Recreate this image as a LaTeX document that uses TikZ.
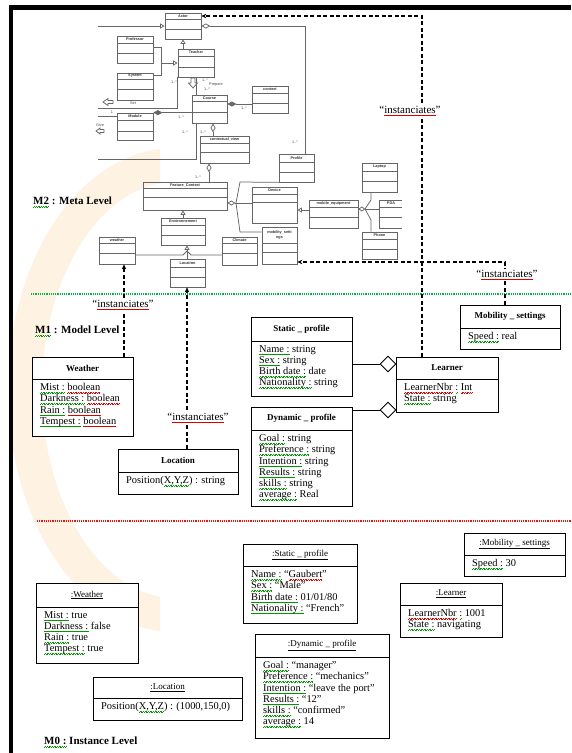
\documentclass[tikz,border=0pt]{standalone}
\usepackage{fontspec}
\setmainfont{Liberation Serif}
\newfontfamily\uisans{Liberation Sans}
\usetikzlibrary{arrows.meta,shapes.geometric,calc}
\definecolor{sepgreen}{RGB}{0,180,70}
\definecolor{sepred}{RGB}{235,20,20}
\definecolor{wmorange}{RGB}{254,242,226}
\newcommand\ulwave[2]{{\setbox0=\hbox{#2}\leavevmode\rlap{\color{#1}\xleaders\hbox{\rule[-2.6pt]{0.8pt}{0.5pt}\rule[-2.0pt]{0.8pt}{0.5pt}}\hskip\wd0}\box0}}
\newcommand\gw[1]{\ulwave{green!60!black}{#1}}
\newcommand\rw[1]{\ulwave{red!85!black}{#1}}
\newcommand\classbox[8]{%
 \node[cbox,minimum width={(#4-#2)*1pt},minimum height={(#5-#3)*1pt}] (#1) at ({(#2+#4)/2},{(#3+#5)/2}) {};
 \draw[cline] (#2,#6) -- (#4,#6);
 \node[chead] (#1-h) at ({(#2+#4)/2},{(#3+#6)/2}) {#7};
 \node[cbody] (#1-b) at (#2+8,#6+4) {#8};}
\newcommand\metabox[8]{%
 \node[mbox,minimum width={(#4-#2)*1pt},minimum height={(#5-#3)*1pt}] (#1) at ({(#2+#4)/2},{(#3+#5)/2}) {};
 \draw[mline] (#2,#6) -- (#4,#6) (#2,#7) -- (#4,#7);
 \node[mlabel] (#1-l) at ({(#2+#4)/2},{(#3+#6)/2}) {#8};}
\begin{document}
\begin{tikzpicture}[x=1pt,y=-1pt,
  cbox/.style={draw=black,line width=0.9pt,inner sep=0pt,fill=white},
  cline/.style={draw=black,line width=0.9pt},
  chead/.style={inner sep=0pt,font=\bfseries\fontsize{9}{10}\selectfont},
  cbody/.style={anchor=north west,align=left,inner sep=0pt,font=\fontsize{10.4}{11.3}\selectfont},
  mbox/.style={draw=black!60,line width=0.75pt,inner sep=0pt},
  mline/.style={draw=black!60,line width=0.75pt},
  mlabel/.style={inner sep=0pt,align=center,font=\uisans\bfseries\fontsize{3.8}{4.2}\selectfont,text=black!80},
  mnote/.style={inner sep=0pt,font=\uisans\fontsize{3.8}{4.2}\selectfont,text=black!70},
  inst/.style={draw=black,line width=1.1pt,dash pattern=on 4pt off 2.5pt,-{Stealth[length=5pt,width=4.5pt]}},
  instlbl/.style={fill=white,inner sep=1pt,font=\fontsize{11}{12}\selectfont},
  lvl/.style={anchor=west,inner sep=0pt,font=\bfseries\fontsize{11}{12}\selectfont},
  agg/.style={diamond,draw=black,line width=0.9pt,fill=white,minimum size=16pt,inner sep=0pt}]
\useasboundingbox (0,0) rectangle (571,753);
\fill[white] (0,0) rectangle (571,753);
% faint watermark arc
\begin{scope}
\clip (13,140) rectangle (160,640);
\draw[wmorange,line width=34pt] (175,390) ellipse[x radius=150,y radius=225];
\end{scope}
\fill[black] (9,5) rectangle (571,10);
\fill[black] (9,5) rectangle (13,753);

% ---------------- M2 meta model ----------------
\metabox{actor}{165}{13}{201}{39}{19}{29}{Actor}
\metabox{prof}{117}{36}{153}{63}{43}{53}{Professor}
\metabox{teacher}{178}{49}{214}{77}{56}{67}{Teacher}
\metabox{system}{117}{73}{153}{100}{79}{89}{System}
\metabox{course}{192}{95}{227}{123}{101}{112}{Course}
\metabox{context}{252}{86}{288}{113}{93}{103}{context}
\metabox{module}{117}{113}{153}{140}{120}{131}{Module}
\metabox{cview}{200}{136}{249}{163}{143}{152}{contextual\_view}
\metabox{profile}{279}{154}{314}{182}{162}{172}{Profile}
\metabox{fc}{143}{182}{227}{210}{188}{197}{Feature\_Context}
\metabox{device}{252}{187}{297}{223}{194}{202}{Device}
\metabox{mobeq}{309}{200}{358}{228}{207}{217}{mobile\_equipment}
\metabox{laptop}{362}{163}{397}{192}{171}{181}{Laptop}
\metabox{phone}{362}{232}{397}{259}{239}{249}{Phone}
\metabox{env}{161}{218}{205}{245}{225}{235}{Environnement}
\metabox{weatherm}{99}{237}{135}{264}{243}{253}{weather}
\metabox{climate}{222}{237}{257}{265}{243}{253}{Climate}
\metabox{locm}{170}{259}{205}{287}{267}{277}{Location}
\metabox{mobset}{262}{227}{297}{264}{243}{252}{mobility\_setti\\ngs}
\node[inner sep=0pt,minimum width=23pt,minimum height=28pt] (pda) at (390.5,214) {};
\draw[mline] (402,200) -- (379,200) -- (379,228) -- (402,228) (379,207) -- (402,207) (379,217) -- (402,217);
\node[mlabel] (pda-l) at (391,203.5) {PDA};

% M2 connectors
\draw[mline,-{Triangle[open,length=4.5pt,width=5pt]}] (98,26) -- (actor.west);
\draw[mline] (prof.east |- 0,47) -- (161,47) -- (161,75) -- (system.east |- 0,75);
\draw[mline,-{Triangle[open,length=4.5pt,width=5pt]}] (161,63) -- (teacher.west);
\draw[mline,-{Triangle[open,length=4.5pt,width=5pt]}] (teacher.north -| actor.south) -- (actor.south);
\draw[mline,{Diamond[open,length=9pt,width=5pt]}-] (actor.east) -| ($(profile.north)+(8.5,0)$);
\draw[mline] (teacher.south) -- (course.north -| teacher.south);
\draw[mline] (98,108) -| (teacher.south west);
\draw[mline,{Diamond[length=9pt,width=5pt]}-] (module.north east) -- (course.west |- module.north east);
\draw[mline] (98,116) -- (module.west |- 0,116);
\draw[mline,{Diamond[length=9pt,width=5pt]}-] (course.east |- 0,104) -- (context.west |- 0,104);
\draw[mline,{Diamond[open,length=9pt,width=5pt]}-] (course.south -| 213,0) -- (cview.north -| 213,0);
\draw[mline] (course.south -| 196,0) |- (98,159);
\draw[mline,{Diamond[open,length=9pt,width=5pt]}-] (cview.south -| 209,0) -- (fc.north -| 209,0);
\draw[mline,{Diamond[open,length=8pt,width=5pt]}-] (fc.east |- 0,203) -- (device.west |- 0,203);
\draw[mline] (236,203) -- (240,182) -- (profile.south west);
\draw[mline] (236,203) -- (240,232) -- (mobset.west |- 0,232);
\draw[mline,{Triangle[open,length=4.5pt,width=5pt]}-] (device.east |- 0,210) -- (mobeq.west |- 0,210);
\draw[mline,{Diamond[open,length=7pt,width=5pt]}-] (mobeq.east |- 0,209) -- (pda.west |- 0,209);
\draw[mline] (365,209) -- (371,200) -- (laptop.south -| 371,0);
\draw[mline] (365,209) -- (371,220) -- (phone.north -| 371,0);
\draw[mline,{Triangle[open,length=4.5pt,width=5pt]}-] (fc.south -| 183,0) -- (env.north -| 183,0);
\draw[mline,{Triangle[open,length=4.5pt,width=5pt]}-] (env.south -| 187,0) -- (187,251);
\draw[mline] (weatherm.east |- 0,255) -- (183,255) -- (187,251) -- (191,255) -- (climate.west |- 0,255);
\draw[mline] (187,251) -- (locm.north -| 187,0);
% small icons
\draw[mline,fill=white] (191,78) -- (195,78) -- (195,83) -- (197.5,83) -- (193,88) -- (188.5,83) -- (191,83) -- cycle;
\draw[mline,fill=white] (103,102) -- (108,98.5) -- (108,100.5) -- (113,100.5) -- (113,103.5) -- (108,103.5) -- (108,105.5) -- cycle;
\draw[mline,fill=white] (96,131) -- (100,128) -- (100,129.5) -- (104,129.5) -- (104,132.5) -- (100,132.5) -- (100,134) -- cycle;
% multiplicities and labels
\node[mnote] (n1) at (174,82) {1..*};
\node[mnote] (n2) at (205,80) {1..*};
\node[mnote] (n3) at (216,85) {Prepare};
\node[mnote] (n4) at (207,89.5) {1..*};
\node[mnote] (n5) at (181,117) {1..*};
\node[mnote] (n6) at (244,108) {1..*};
\node[mnote] (n7) at (203,132) {1..*};
\node[mnote] (n8) at (185,132) {1..*};
\node[mnote] (n9) at (198,177) {1..*};
\node[mnote] (n10) at (295,142) {1..*};
\node[mnote] (n11) at (133,103.5) {Set};
\node[mnote] (n12) at (112,112) {1};
\node[mnote] (n13) at (100,125) {Give};

\node[lvl] (m2) at (33,202) {\gw{M2} : Meta Level};

% level separators
\draw[sepgreen,line width=1.2pt,dash pattern=on 1.2pt off 1pt] (31,294) -- (571,294);
\draw[sepred,line width=1.2pt,dash pattern=on 1.2pt off 1pt] (37,521) -- (571,521);

% ---------------- M1 model level ----------------
\node[lvl] (m1) at (35,331) {\gw{M1} : Model Level};
\classbox{weather1}{32}{357}{133}{436}{379}{Weather}{\gw{Mist :} \rw{boolean}\\ \gw{Darkness :} \rw{boolean}\\ \gw{Rain :} \rw{boolean}\\ \gw{Tempest :} \rw{boolean}}
\classbox{static1}{251}{317}{352}{396}{341}{Static \_ profile}{\gw{Name :} string\\ \gw{Sex :} string\\ \gw{Birth date :} date\\ \gw{Nationality :} string}
\classbox{dyn1}{251}{407}{352}{506}{430}{Dynamic \_ profile}{\gw{Goal :} string\\ \gw{Preference :} string\\ \gw{Intention :} string\\ \gw{Results :} string\\ \gw{skills :} string\\ \gw{average :} Real}
\classbox{learner1}{396}{357}{498}{412}{379}{Learner}{\rw{LearnerNbr} \gw{:} \rw{Int}\\ \gw{State :} string}
\classbox{mob1}{460}{305}{560}{349}{328}{Mobility \_ settings}{\gw{Speed :} real}
\classbox{loc1}{118}{449}{238}{494}{472}{Location}{Position(\gw{X,Y,Z}) : string}
\node[agg] (d1) at (388,364) {};
\node[agg] (d2) at (388,410) {};
\draw[line width=0.9pt] (static1.east |- d1) -- (d1.west);
\draw[line width=0.9pt] (dyn1.east |- d2) -- (d2.west);

% instanciates links
\draw[inst] (learner1.north -| 422,0) -- (422,16) -- (actor.east |- 0,16);
\draw[inst] (mob1.north -| 505,0) -- (505,262) -- (mobset.east |- 0,262);
\draw[inst] (weather1.north -| 124,0) -- (weatherm.south -| 124,0);
\draw[inst] (loc1.north -| 187,0) -- (locm.south -| 187,0);
\node[instlbl] (i1) at (410,111) {“\rw{instanciates}”};
\node[instlbl] (i2) at (507,275) {“\rw{instanciates}”};
\node[instlbl] (i3) at (123,305) {“\rw{instanciates}”};
\node[instlbl] (i4) at (198,418) {“\rw{instanciates}”};

% ---------------- M0 instance level ----------------
\classbox{mob0}{464}{533}{565}{576}{555}{\mdseries\underline{:Mobility \_ settings}}{\gw{Speed :} 30}
\classbox{static0}{243}{544}{357}{623}{566}{\mdseries\underline{:Static \_ profile}}{\gw{Name :} “\rw{Gaubert}”\\ \gw{Sex :} “Male”\\ \gw{Birth date :} 01/01/80\\ \gw{Nationality :} “French”}
\classbox{weather0}{36}{583}{138}{663}{607}{\mdseries\underline{:Weather}}{\gw{Mist :} true\\ \gw{Darkness :} false\\ \gw{Rain :} true\\ \gw{Tempest :} true}
\classbox{learner0}{400}{583}{502}{637}{605}{\mdseries\underline{:Learner}}{\rw{LearnerNbr} \gw{:} 1001\\ \gw{State :} navigating}
\classbox{dyn0}{255}{634}{389}{738}{657}{\mdseries\underline{:Dynamic \_ profile}}{\gw{Goal :} “manager”\\ \gw{Preference :} “mechanics”\\ \gw{Intention :} “leave the port”\\ \gw{Results :} “12”\\ \gw{skills :} “confirmed”\\ \gw{average :} 14}
\classbox{loc0}{93}{677}{242}{720}{698}{\mdseries\underline{:Location}}{Position(\gw{X,Y,Z}) : (1000,150,0)}
\node[lvl] (m0) at (44,742) {\gw{M0 :} Instance Level};
\end{tikzpicture}
\end{document}
